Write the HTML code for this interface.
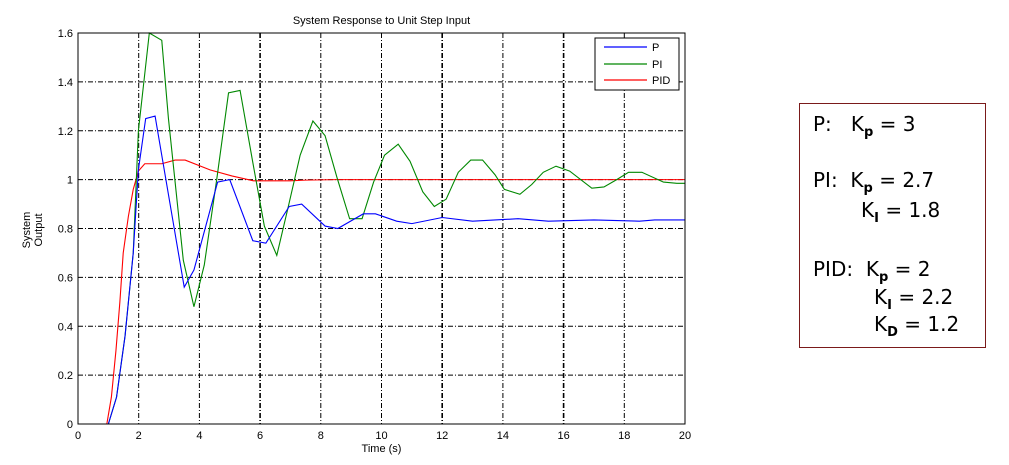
<!DOCTYPE html>
<html><head><meta charset="utf-8"><style>
body{margin:0;background:#fff;width:1009px;height:465px;overflow:hidden;position:relative;font-family:"Liberation Sans",sans-serif}
.t{position:absolute;font-family:"DejaVu Sans",sans-serif;font-size:20px;color:#000;white-space:nowrap;line-height:1}
.t sub{font-size:13px;font-weight:bold;vertical-align:-5px}
</style></head><body>
<svg id="chart" width="1009" height="465" style="position:absolute;left:0;top:0" font-family="Liberation Sans, sans-serif"></svg>
<div style="position:absolute;left:799px;top:103px;width:185px;height:243px;border:1px solid #7a1a1a;"></div>
<div class="t" style="left:813px;top:114px">P:&nbsp;&nbsp; K<sub>p</sub> = 3</div>
<div class="t" style="left:813px;top:170px">PI:&nbsp; K<sub>p</sub> = 2.7</div>
<div class="t" style="left:861px;top:200px">K<sub>I</sub> = 1.8</div>
<div class="t" style="left:813px;top:259px">PID:&nbsp; K<sub>p</sub> = 2</div>
<div class="t" style="left:874px;top:287px">K<sub>I</sub> = 2.2</div>
<div class="t" style="left:874px;top:314px">K<sub>D</sub> = 1.2</div>
<script>
const xTicks=[0,2,4,6,8,10,12,14,16,18,20];
const yTicks=[0,0.2,0.4,0.6,0.8,1,1.2,1.4,1.6];
const yTickLabels=["0","0.2","0.4","0.6","0.8","1","1.2","1.4","1.6"];
const pT=[0,1,1.27,1.55,1.82,1.99,2.23,2.54,3.5,3.82,4.6,5.0,5.76,6.19,6.96,7.37,8.14,8.56,9.4,9.8,10.5,11.0,12.0,13,14.5,15.5,17,18.5,19,20];
const pV=[0,0,0.11,0.36,0.7,1.04,1.25,1.26,0.56,0.63,0.99,1.0,0.75,0.74,0.89,0.9,0.81,0.8,0.86,0.86,0.83,0.82,0.845,0.83,0.84,0.83,0.835,0.83,0.835,0.835];
const piT=[0,1,1.27,1.55,1.82,1.99,2.35,2.76,2.98,3.47,3.82,4.16,4.57,4.96,5.34,5.76,6.14,6.55,6.93,7.32,7.74,8.14,8.53,8.95,9.36,9.74,10.1,10.55,10.94,11.36,11.74,12.13,12.53,12.94,13.33,13.74,14.05,14.56,14.95,15.33,15.75,16.2,16.93,17.33,17.75,18.14,18.58,19.29,19.73,20];
const piV=[0,0,0.11,0.36,0.7,1.2,1.6,1.57,1.25,0.67,0.48,0.65,1.0,1.355,1.365,1.07,0.81,0.69,0.89,1.1,1.24,1.18,1.01,0.84,0.84,0.99,1.1,1.145,1.075,0.95,0.89,0.92,1.03,1.08,1.08,1.02,0.96,0.94,0.98,1.03,1.055,1.035,0.965,0.97,1.0,1.03,1.03,0.99,0.985,0.985];
const pidT=[0,0.95,1.1,1.25,1.38,1.49,1.66,1.82,1.99,2.2,2.76,3.2,3.53,4.35,5.07,5.78,6.99,7.5,8.5,20];
const pidV=[0,0,0.11,0.3,0.5,0.7,0.85,0.96,1.035,1.065,1.065,1.08,1.08,1.04,1.015,0.995,0.995,0.998,1.0,1.0];
const L=78,R=685,T=33,B=424;
const sx=v=>L+(v-0)/20*(R-L), sy=v=>B-v/1.6*(B-T);
const svg=document.getElementById('chart'),NS='http://www.w3.org/2000/svg';
function mk(tag,attrs,parent){const e=document.createElementNS(NS,tag);for(const k in attrs)e.setAttribute(k,attrs[k]);(parent||svg).appendChild(e);return e;}
let e=mk('rect',{x:L,y:T,width:R-L,height:B-T,fill:'#fff'});


xTicks.forEach(v=>{
  if(v>0&&v<20){let g=mk('line',{x1:sx(v),x2:sx(v),y1:T,y2:B,stroke:'#000','stroke-width':(v==6||v==12||v==16)?1.6:1,'stroke-dasharray':'5,2,1,2'});
  
  }
  let t=mk('text',{x:sx(v),y:B+15,'font-size':11,'text-anchor':'middle'});t.textContent=v;
  
  
});
yTicks.forEach((v,i)=>{
  if(v>0&&v<1.6){let g=mk('line',{x1:L,x2:R,y1:sy(v),y2:sy(v),stroke:'#000','stroke-width':1,'stroke-dasharray':'5,2,1,2'});
  
  }
  let t=mk('text',{x:L-5,y:sy(v)+4,'font-size':11,'text-anchor':'end'});t.textContent=yTickLabels[i];
  
  
});
function line(ts,vs,col,name){
  let p=mk('polyline',{points:ts.map((t,i)=>sx(t)+','+sy(vs[i])).join(' '),fill:'none',stroke:col,'stroke-width':1.1});
  
  
}
line(pidT,pidV,'#f00','pid-line');
line(piT,piV,'#080','pi-line');
line(pT,pV,'#00f','p-line');
e=mk('rect',{x:L,y:T,width:R-L,height:B-T,fill:'none',stroke:'#000','stroke-width':1});


let lg=mk('g',{});


mk('rect',{x:595,y:38,width:84,height:52,fill:'#fff',stroke:'#000'},lg);
[['P','#00f',47],['PI','#080',64],['PID','#f00',80]].forEach(d=>{
  mk('line',{x1:604,x2:647,y1:d[2],y2:d[2],stroke:d[1],'stroke-width':1.2},lg);
  let t=mk('text',{x:652,y:d[2]+4,'font-size':11},lg);t.textContent=d[0];
  
  
});
e=mk('text',{x:(L+R)/2,y:24,'font-size':11,'text-anchor':'middle'});e.textContent='System Response to Unit Step Input';


e=mk('text',{x:(L+R)/2,y:452,'font-size':11,'text-anchor':'middle'});e.textContent='Time (s)';


e=mk('text',{x:0,y:0,'font-size':11,'text-anchor':'middle',transform:'translate(30,230) rotate(-90)'});
mk('tspan',{x:0,dy:0},e).textContent='System';
mk('tspan',{x:0,dy:12},e).textContent='Output';


</script>
</body></html>
